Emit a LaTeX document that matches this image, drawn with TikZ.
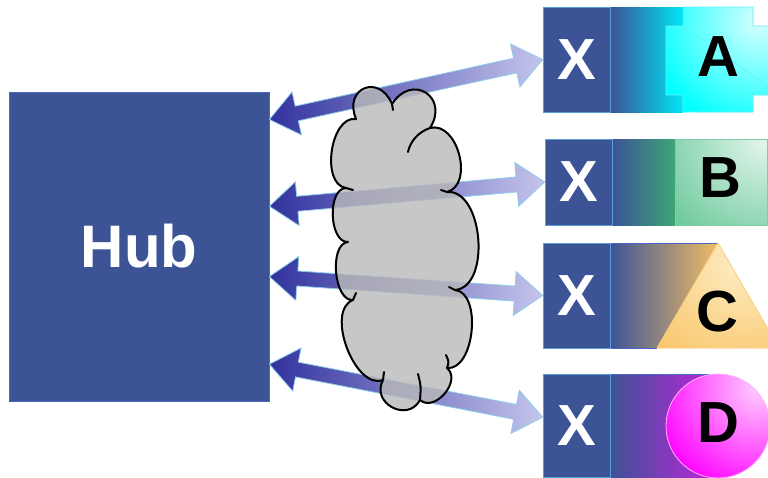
\documentclass[tikz,border=0pt]{standalone}
\usepackage{fontspec}
\setmainfont{Liberation Sans}
\usetikzlibrary{calc}
\definecolor{hubblue}{RGB}{60,83,150}
\definecolor{hubedge}{RGB}{72,104,196}
\definecolor{xedge}{RGB}{86,160,215}
\definecolor{arrdark}{RGB}{50,50,158}
\definecolor{arrlight}{RGB}{196,196,236}
\definecolor{arredge}{RGB}{140,205,235}
\definecolor{cloudgray}{RGB}{186,186,186}
\definecolor{cyanA}{RGB}{0,255,255}
\definecolor{cyanAd}{RGB}{0,230,245}
\definecolor{cyanAl}{RGB}{215,255,255}
\definecolor{greenB}{RGB}{70,186,130}
\definecolor{greenBd}{RGB}{62,165,118}
\definecolor{greenBl}{RGB}{228,246,236}
\definecolor{orangeC}{RGB}{248,194,96}
\definecolor{orangeCd}{RGB}{240,190,100}
\definecolor{orangeCl}{RGB}{254,236,196}
\definecolor{magD}{RGB}{255,0,255}
\definecolor{magDd}{RGB}{196,34,224}
\definecolor{magDl}{RGB}{255,205,255}
\tikzset{
  hubbox/.style={draw=hubedge, line width=0.8pt, fill=hubblue, text=white,
    minimum width=260pt, minimum height=309pt, inner sep=0pt,
    font=\fontsize{60}{60}\selectfont\bfseries},
  xbox/.style={draw=xedge, line width=0.8pt, fill=hubblue, text=white,
    minimum width=67pt, inner sep=0pt,
    font=\fontsize{58}{58}\selectfont\bfseries},
  letter/.style={text=black, inner sep=0pt,
    font=\fontsize{58}{58}\selectfont\bfseries},
  arrowbody/.style={left color=arrdark, right color=arrlight, draw=arredge, line width=0.8pt},
  cloudbody/.style={fill=cloudgray, fill opacity=0.8, draw=black, line width=2pt, line join=round},
  cloudline/.style={draw=black, line width=2pt, line cap=round}
}
\newcommand\twoarrow[2]{%
  \coordinate (ta) at ($(#1)!28pt!(#2)$);
  \coordinate (tb) at ($(#2)!28pt!(#1)$);
  \shadedraw[arrowbody] (#1) -- ($(ta)!22pt!90:(#2)$) -- ($(ta)!7.5pt!90:(#2)$)
     -- ($(tb)!7.5pt!-90:(#1)$) -- ($(tb)!22pt!-90:(#1)$) -- (#2)
     -- ($(tb)!22pt!90:(#1)$) -- ($(tb)!7.5pt!90:(#1)$)
     -- ($(ta)!7.5pt!-90:(#2)$) -- ($(ta)!22pt!-90:(#2)$) -- cycle;
}
\begin{document}
\begin{tikzpicture}[x=1pt,y=-1pt]
\useasboundingbox (0,0) rectangle (768,477);
\fill[white] (0,0) rectangle (768,477);

% Hub
\node[hubbox] (hub) at (139,246.5) {Hub};

% Row A
\shade[left color=hubblue, right color=cyanAd] (610,7) rectangle (683,112);
\begin{scope}
  \clip (683,7) -- (753,7) -- (753,26) -- (780,26) -- (780,95) -- (753,95) -- (753,112)
     -- (683,112) -- (683,95) -- (666,95) -- (666,26) -- (683,26) -- cycle;
  \fill[cyanA] (660,0) rectangle (780,120);
  \shade[inner color=cyanAl, outer color=cyanA] (758,22) circle (110);
\end{scope}
\draw[draw=cyanAd!60!white, line width=0.8pt] (683,7) -- (753,7) -- (753,26) -- (780,26)
   (780,95) -- (753,95) -- (753,112) -- (683,112) -- (683,95) -- (666,95) -- (666,26) -- (683,26) -- cycle;
\node[xbox, minimum height=105pt] (xa) at (576.5,59.5) {X};
\node[letter] (la) at (718,57) {A};

% Row B
\shade[left color=hubblue, right color=greenBd] (612,139) rectangle (675,225);
\begin{scope}
  \clip (675,139) rectangle (767,225);
  \fill[greenB] (675,139) rectangle (767,225);
  \shade[inner color=greenBl, outer color=greenB] (765,140) circle (160);
\end{scope}
\draw[greenB!70!white, line width=0.8pt] (675,139) rectangle (767,225);
\node[xbox, minimum height=86pt] (xb) at (578.5,182) {X};
\node[letter] (lb) at (720,178) {B};

% Row C
\shade[left color=hubblue, right color=orangeCd] (610,243) -- (718,243) -- (657,348) -- (610,348) -- cycle;
\draw[hubedge, line width=0.8pt] (610,243) -- (718,243) (610,348) -- (657,348);
\begin{scope}
  \clip (718,243) -- (779,348) -- (657,348) -- cycle;
  \fill[orangeC] (650,240) rectangle (780,350);
  \shade[inner color=orangeCl, outer color=orangeC] (740,262) circle (130);
\end{scope}
\draw[orangeC!80!white, line width=0.8pt] (718,243) -- (779,348) -- (657,348) -- cycle;
\node[xbox, minimum height=105pt] (xc) at (576.5,295.5) {X};
\node[letter] (lc) at (717,312) {C};

% Row D
\shade[left color=hubblue, right color=magDd] (610,374) rectangle (718,477);
\draw[hubedge, line width=0.8pt] (610,374) -- (718,374);
\begin{scope}
  \clip (718,426) circle (52);
  \fill[magD] (718,426) circle (52);
  \shade[inner color=magDl, outer color=magD] (758,388) circle (110);
\end{scope}
\draw[magD!30!white, line width=0.8pt] (718,426) circle (52);
\node[xbox, minimum height=103pt] (xd) at (576.5,425.5) {X};
\node[letter] (ld) at (718,423) {D};

% arrow end points
\coordinate (h1) at ($(hub.north east)!0.09!(hub.south east)$);
\coordinate (h2) at ($(hub.north east)!0.37!(hub.south east)$);
\coordinate (h3) at ($(hub.north east)!0.597!(hub.south east)$);
\coordinate (h4) at ($(hub.north east)!0.88!(hub.south east)$);
\coordinate (d4) at ($(xd.north west)!0.42!(xd.south west)$);

\twoarrow{h1}{xa.west}
\twoarrow{h2}{xb.west}
\twoarrow{h3}{xc.west}
\twoarrow{h4}{d4}

% Cloud
\filldraw[cloudbody] (356,119)
  to[bend left=90, looseness=2.2] (392,104)
  to[bend left=90, looseness=2.1] (430,128)
  to[bend left=90, looseness=1.1] (447,192)
  to[bend left=90, looseness=0.95] (455,290)
  to[bend left=90, looseness=0.9] (447,368)
  to[bend left=90, looseness=1.2] (420,400)
  to[bend left=90, looseness=1.6] (383,380)
  to[bend left=90, looseness=0.9] (353,300)
  to[bend left=90, looseness=0.85] (348,242)
  to[bend left=90, looseness=0.9] (346,188)
  to[bend left=90, looseness=0.95] (356,119) -- cycle;
\draw[cloudline] (430,128) .. controls (418,132) and (410,142) .. (408,152);
\draw[cloudline] (447,368) .. controls (449,362) .. (446,355);
\draw[cloudline] (420,400) .. controls (421,386) .. (418,374);
\draw[cloudline] (392,104) -- (393,110);
\draw[cloudline] (447,192) -- (441,190);
\draw[cloudline] (455,290) -- (449,287);
\draw[cloudline] (346,188) -- (353,190);
\draw[cloudline] (353,300) -- (356,293);
\draw[cloudline] (383,380) -- (384,372);
\end{tikzpicture}
\end{document}
